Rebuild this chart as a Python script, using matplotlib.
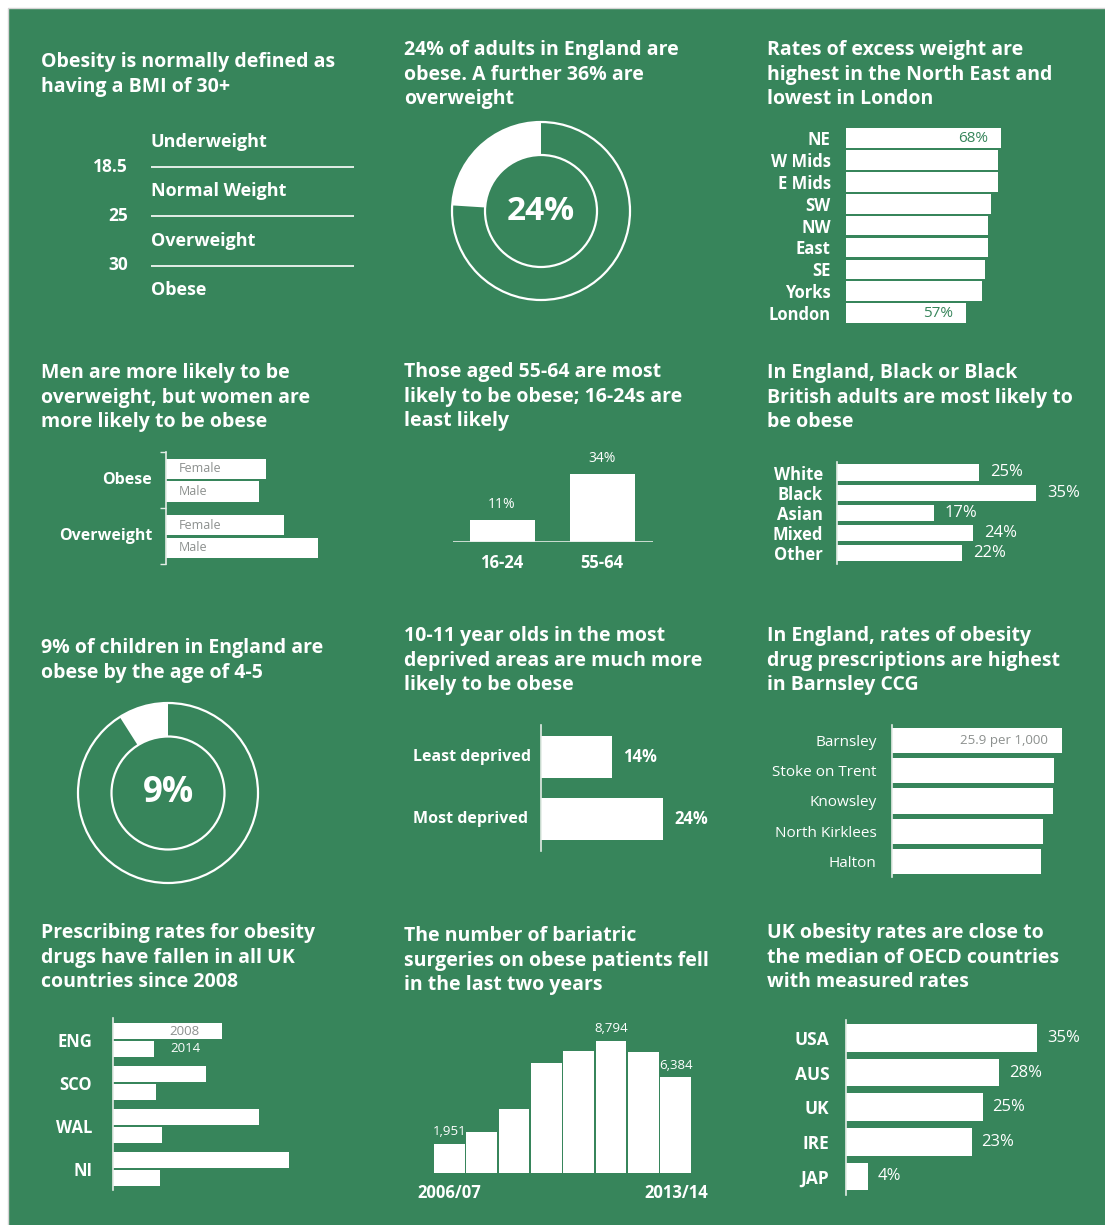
import matplotlib
matplotlib.use("Agg")
import matplotlib.pyplot as plt
from matplotlib.patches import Circle, Rectangle

W, H = 1105, 1225
GREEN = "#37855b"
GREY = "#8c908e"
AXIS = "#e4ece6"

plt.rcParams["font.family"] = ["Open Sans", "DejaVu Sans"]

# ---- data ----
bmi_categories = ["Underweight", "Normal Weight", "Overweight", "Obese"]
bmi_cutoffs = ["18.5", "25", "30"]

adult_obese_pct = 24
child_obese_pct = 9

regions = ["NE", "W Mids", "E Mids", "SW", "NW", "East", "SE", "Yorks", "London"]
region_excess = [68, 67, 67, 65, 64, 64, 63, 62, 57]

sex_groups = ["Obese", "Overweight"]
sexes = ["Female", "Male"]
sex_obese = [27, 25]
sex_overweight = [32, 41]

age_groups = ["16-24", "55-64"]
age_obese = [11, 34]

ethnic_groups = ["White", "Black", "Asian", "Mixed", "Other"]
ethnic_obese = [25, 35, 17, 24, 22]

deprivation = ["Least deprived", "Most deprived"]
deprivation_obese = [14, 24]

ccgs = ["Barnsley", "Stoke on Trent", "Knowsley", "North Kirklees", "Halton"]
ccg_rate = [25.9, 24.7, 24.5, 23.0, 22.7]

nations = ["ENG", "SCO", "WAL", "NI"]
rx_2008 = [10.9, 9.3, 14.6, 17.6]
rx_2014 = [4.1, 4.3, 4.9, 4.7]

surgery_years = ["2006/07", "2007/08", "2008/09", "2009/10",
                 "2010/11", "2011/12", "2012/13", "2013/14"]
surgeries = [1951, 2730, 4260, 7330, 8120, 8794, 8060, 6384]

oecd = ["USA", "AUS", "UK", "IRE", "JAP"]
oecd_obese = [35, 28, 25, 23, 4]

titles = [
    (41, 67, ["Obesity is normally defined as", "having a BMI of 30+"]),
    (404, 55, ["24% of adults in England are", "obese. A further 36% are", "overweight"]),
    (767, 55, ["Rates of excess weight are", "highest in the North East and", "lowest in London"]),
    (41, 378, ["Men are more likely to be", "overweight, but women are", "more likely to be obese"]),
    (404, 377, ["Those aged 55-64 are most", "likely to be obese; 16-24s are", "least likely"]),
    (767, 378, ["In England, Black or Black", "British adults are most likely to", "be obese"]),
    (41, 653, ["9% of children in England are", "obese by the age of 4-5"]),
    (404, 641, ["10-11 year olds in the most", "deprived areas are much more", "likely to be obese"]),
    (767, 641, ["In England, rates of obesity", "drug prescriptions are highest", "in Barnsley CCG"]),
    (41, 938, ["Prescribing rates for obesity", "drugs have fallen in all UK", "countries since 2008"]),
    (404, 941, ["The number of bariatric", "surgeries on obese patients fell", "in the last two years"]),
    (767, 938, ["UK obesity rates are close to", "the median of OECD countries", "with measured rates"]),
]

fig = plt.figure(figsize=(W / 100, H / 100), dpi=100, facecolor="white")
# green panel, running off the right and bottom edges
fig.patches.append(Rectangle((8 / W, -0.05), 1.1, 1.05 - 8 / H, transform=fig.transFigure,
                             facecolor=GREEN, edgecolor="#d4d4d4", lw=1, zorder=-10))


def ptext(x, y, s, **kw):
    # x, y in pixels from the top-left corner
    return fig.text(x / W, 1 - y / H, s, **kw)


def add_ax(left, top, width, height):
    ax = fig.add_axes([left / W, 1 - (top + height) / H, width / W, height / H])
    ax.set_facecolor("none")
    for s in ax.spines.values():
        s.set_visible(False)
    ax.set_xticks([])
    ax.set_yticks([])
    return ax


def bar_axes(left, top, bottom, first, pitch, scale, xmin=0, width=250, spine=True):
    # horizontal bar axes: rows are `pitch` px apart, first row centred at `first`
    ax = add_ax(left, top, width, bottom - top)
    ax.set_ylim((bottom - first) / pitch, (top - first) / pitch)
    ax.set_xlim(xmin, xmin + width / scale)
    if spine:
        ax.spines["left"].set_visible(True)
        ax.spines["left"].set_color(AXIS)
        ax.spines["left"].set_linewidth(1.2)
    return ax


def set_cats(ax, cats, size, pad, weight="bold"):
    ax.set_yticks(range(len(cats)))
    ax.set_yticklabels(cats, fontsize=size, fontweight=weight, color="white")
    ax.tick_params(axis="y", length=0, pad=pad)


def donut(cx, cy, r_out, r_in, pct, size):
    side = 2.3 * r_out
    ax = add_ax(cx - side / 2, cy - side / 2, side, side)
    ax.pie([pct, 100 - pct], colors=["white", "none"], startangle=90, counterclock=True,
           radius=1, wedgeprops=dict(width=1 - r_in / r_out, edgecolor="none"))
    for r in (1, r_in / r_out):
        ax.add_patch(Circle((0, 0), r, fill=False, edgecolor="white", lw=1.6))
    lim = side / 2 / r_out
    ax.set_xlim(-lim, lim)
    ax.set_ylim(-lim, lim)
    ax.set_aspect("equal")
    ax.text(0, 0, f"{pct}%", ha="center", va="center", color="white",
            fontsize=size, fontweight="bold")


# titles
for x, y, lines in titles:
    for i, line in enumerate(lines):
        ptext(x, y + i * 24.7, line, color="white", fontsize=14, fontweight="bold",
              va="baseline", ha="left")

# BMI bands
ax = add_ax(151, 117, 203, 198)
ax.set_ylim(len(bmi_categories) - 0.5, -0.5)
ax.set_xlim(0, 1)
for i, cat in enumerate(bmi_categories):
    ax.text(0, i, cat, ha="left", va="center", color="white", fontsize=13, fontweight="bold")
for i, cut in enumerate(bmi_cutoffs):
    ax.axhline(i + 0.5, color="white", lw=1.2)
    ax.text(-0.113, i + 0.5, cut, ha="right", va="center", color="white",
            fontsize=12.5, fontweight="bold")

# adult obesity donut
donut(541, 211, 89, 56, adult_obese_pct, 24)

# regions
ax = bar_axes(846, 127, 324, 138, 21.9, 3.18, xmin=19.3, width=254, spine=False)
ax.barh(range(len(regions)), [v - 19.3 for v in region_excess], height=0.9,
        color="white", left=19.3)
set_cats(ax, regions, 12, 11)
for i in (0, len(regions) - 1):
    ax.annotate(f"{region_excess[i]}%", (region_excess[i], i), xytext=(-9, 0),
                textcoords="offset points", ha="right", va="center", color=GREEN, fontsize=11)

# men vs women
ax = bar_axes(166, 452, 564, 469, 22.5, 3.7, width=200)
pos = [[0, 1], [2.5, 3.5]]
for g, vals in enumerate([sex_obese, sex_overweight]):
    ax.barh(pos[g], vals, height=0.9, color="white")
    for p, s in zip(pos[g], sexes):
        ax.annotate(s, (0, p), xytext=(9, 0), textcoords="offset points", ha="left",
                    va="center", color=GREY, fontsize=9)
    ax.text(-14 / 200, sum(pos[g]) / 2, sex_groups[g], transform=ax.get_yaxis_transform(),
            ha="right", va="center", color="white", fontsize=11.5, fontweight="bold")
lo, hi = ax.get_ylim()
ax.set_yticks([hi, (pos[0][1] + pos[1][0]) / 2, lo])
ax.set_yticklabels([])
ax.tick_params(axis="y", length=4, width=1, color=AXIS, direction="out")

# age groups
ax = add_ax(453, 442, 200, 100)
ax.set_xlim(-0.49, 1.51)
ax.set_ylim(0, 50)
ax.bar(range(len(age_groups)), age_obese, width=0.65, color="white")
ax.axhline(0, color=AXIS, lw=1.2)
ax.set_xticks(range(len(age_groups)))
ax.set_xticklabels(age_groups, fontsize=12, fontweight="bold", color="white")
ax.tick_params(axis="x", length=0, pad=9)
for i, v in enumerate(age_obese):
    ax.annotate(f"{v}%", (i, v), xytext=(0, 6), textcoords="offset points", ha="center",
                va="bottom", color="white", fontsize=10)

# ethnicity
ax = bar_axes(837, 462, 564, 472.5, 20.2, 5.68)
ax.barh(range(len(ethnic_groups)), ethnic_obese, height=0.8, color="white")
set_cats(ax, ethnic_groups, 12, 10)
for i, v in enumerate(ethnic_obese):
    ax.annotate(f"{v}%", (v, i), xytext=(8, 0), textcoords="offset points", ha="left",
                va="center", color="white", fontsize=12)

# children donut
donut(168, 793, 90, 56.5, child_obese_pct, 25)

# deprivation
ax = bar_axes(541, 725, 851, 757, 62, 5.08, width=200)
ax.barh(range(len(deprivation)), deprivation_obese, height=0.68, color="white")
for i, (d, v) in enumerate(zip(deprivation, deprivation_obese)):
    ax.text(-128 / 200, i, d, transform=ax.get_yaxis_transform(), ha="left", va="center",
            color="white", fontsize=11.5, fontweight="bold")
    ax.annotate(f"{v}%", (v, i), xytext=(8, 0), textcoords="offset points", ha="left",
                va="center", color="white", fontsize=12, fontweight="bold")

# CCG prescriptions
ax = bar_axes(892, 725, 877, 740.5, 30.25, 6.56, width=200)
ax.barh(range(len(ccgs)), ccg_rate, height=0.83, color="white")
set_cats(ax, ccgs, 11, 11, weight="normal")
ax.annotate(f"{ccg_rate[0]} per 1,000", (ccg_rate[0], 0), xytext=(-10, 0),
            textcoords="offset points", ha="right", va="center", color=GREY, fontsize=9.5)

# prescribing by nation
ax = bar_axes(113, 1018, 1190, 1040, 43, 10, width=200)
ys = range(len(nations))
ax.barh([y - 0.2 for y in ys], rx_2008, height=0.37, color="white")
ax.barh([y + 0.2 for y in ys], rx_2014, height=0.37, color="white")
set_cats(ax, nations, 12, 15)
ax.annotate("2008", (rx_2008[0], -0.2), xytext=(-16, 0), textcoords="offset points",
            ha="right", va="center", color=GREY, fontsize=9.5)
ax.annotate("2014", (rx_2014[0], 0.2), xytext=(12, 0), textcoords="offset points",
            ha="left", va="center", color="white", fontsize=9.5)

# bariatric surgery
ax = add_ax(433, 1023, 259, 150)
ax.set_xlim(-0.5, len(surgeries) - 0.5)
ax.set_ylim(0, 150 * 66.6)
ax.bar(range(len(surgeries)), surgeries, width=0.95, color="white")
ax.set_xticks([0, len(surgeries) - 1])
ax.set_xticklabels([surgery_years[0], surgery_years[-1]], fontsize=12, fontweight="bold",
                   color="white")
ax.tick_params(axis="x", length=0, pad=8)
for i in (0, surgeries.index(max(surgeries)), len(surgeries) - 1):
    ax.annotate(f"{surgeries[i]:,}", (i, surgeries[i]), xytext=(0, 4),
                textcoords="offset points", ha="center", va="bottom", color="white",
                fontsize=9.5)

# OECD comparison
ax = bar_axes(846, 1020, 1195, 1038, 34.6, 5.47, width=220)
ax.barh(range(len(oecd)), oecd_obese, height=0.8, color="white")
set_cats(ax, oecd, 12.5, 12)
for i, v in enumerate(oecd_obese):
    ax.annotate(f"{v}%", (v, i), xytext=(7, 0), textcoords="offset points", ha="left",
                va="center", color="white", fontsize=12)

fig.savefig("out.png", dpi=100, facecolor="white")
